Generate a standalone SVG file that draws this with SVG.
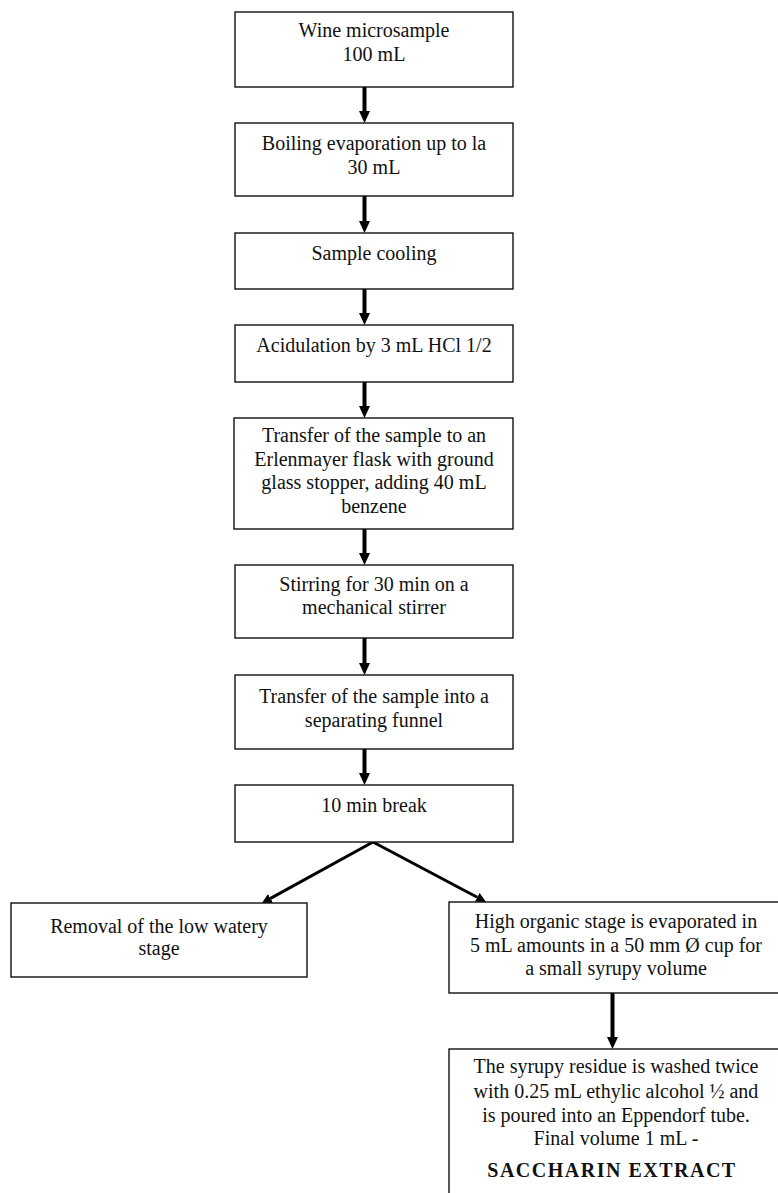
<svg xmlns="http://www.w3.org/2000/svg" width="778" height="1193" viewBox="0 0 778 1193">
<style>
  .box{fill:#fff;stroke:#111;stroke-width:1.4}
  .t{font-family:'Liberation Serif','DejaVu Serif',serif;font-size:20px;fill:#111;text-anchor:middle}
  .b{font-weight:bold}
  .v{stroke:#000;stroke-width:4;fill:none}
  .d{stroke:#000;stroke-width:3;fill:none}
</style>
<defs>
  <marker id="ah" markerUnits="userSpaceOnUse" markerWidth="12" markerHeight="11" refX="0" refY="5.5" orient="auto">
    <path d="M0,0 L12,5.5 L0,11 z" fill="#000"/>
  </marker>
  <marker id="ahd" markerUnits="userSpaceOnUse" markerWidth="10" markerHeight="10" refX="0" refY="5" orient="auto">
    <path d="M0,0 L10,5 L0,10 z" fill="#000"/>
  </marker>
</defs>
<rect width="778" height="1193" fill="#fff"/>
<g id="connectors">
  <line class="v" x1="364.5" y1="87" x2="364.5" y2="111" marker-end="url(#ah)"/>
  <line class="v" x1="364.5" y1="196" x2="364.5" y2="221" marker-end="url(#ah)"/>
  <line class="v" x1="364.5" y1="289" x2="364.5" y2="313" marker-end="url(#ah)"/>
  <line class="v" x1="364.5" y1="382" x2="364.5" y2="406" marker-end="url(#ah)"/>
  <line class="v" x1="364.5" y1="529" x2="364.5" y2="553" marker-end="url(#ah)"/>
  <line class="v" x1="364.5" y1="638" x2="364.5" y2="663" marker-end="url(#ah)"/>
  <line class="v" x1="364.5" y1="749" x2="364.5" y2="773" marker-end="url(#ah)"/>
  <line class="d" x1="373" y1="842" x2="270.5" y2="898.4" marker-end="url(#ahd)"/>
  <line class="d" x1="373" y1="842" x2="477.2" y2="897.3" marker-end="url(#ahd)"/>
  <line class="v" x1="612.5" y1="993" x2="612.5" y2="1037" marker-end="url(#ah)"/>
</g>
<g id="n1">
  <rect class="box" x="235" y="12" width="278" height="75"/>
  <text class="t" x="374" y="37">Wine microsample</text>
  <text class="t" x="374" y="61">100 mL</text>
</g>
<g id="n2">
  <rect class="box" x="235" y="123" width="278" height="73"/>
  <text class="t" x="374" y="150">Boiling evaporation up to la</text>
  <text class="t" x="374" y="174">30 mL</text>
</g>
<g id="n3">
  <rect class="box" x="235" y="233" width="278" height="56"/>
  <text class="t" x="374" y="260">Sample cooling</text>
</g>
<g id="n4">
  <rect class="box" x="235" y="325" width="278" height="57"/>
  <text class="t" x="374" y="352">Acidulation by 3 mL HCl 1/2</text>
</g>
<g id="n5">
  <rect class="box" x="234" y="418" width="279" height="111"/>
  <text class="t" x="374" y="442">Transfer of the sample to an</text>
  <text class="t" x="374" y="465.5">Erlenmayer flask with ground</text>
  <text class="t" x="374" y="489">glass stopper, adding 40 mL</text>
  <text class="t" x="374" y="512.5">benzene</text>
</g>
<g id="n6">
  <rect class="box" x="235" y="565" width="278" height="73"/>
  <text class="t" x="374" y="591">Stirring for 30 min on a</text>
  <text class="t" x="374" y="614">mechanical stirrer</text>
</g>
<g id="n7">
  <rect class="box" x="235" y="675" width="278" height="74"/>
  <text class="t" x="374" y="703">Transfer of the sample into a</text>
  <text class="t" x="374" y="727">separating funnel</text>
</g>
<g id="n8">
  <rect class="box" x="235" y="785" width="278" height="57"/>
  <text class="t" x="374" y="812">10 min break</text>
</g>
<g id="n9">
  <rect class="box" x="11" y="903" width="296" height="74"/>
  <text class="t" x="159" y="933">Removal of the low watery</text>
  <text class="t" x="159" y="955">stage</text>
</g>
<g id="n10">
  <rect class="box" x="449" y="902" width="340" height="91"/>
  <text class="t" x="616" y="928">High organic stage is evaporated in</text>
  <text class="t" x="616" y="952">5 mL amounts in a 50 mm Ø cup for</text>
  <text class="t" x="616" y="975">a small syrupy volume</text>
</g>
<g id="n11">
  <rect class="box" x="449" y="1049" width="340" height="160"/>
  <text class="t" x="616" y="1073">The syrupy residue is washed twice</text>
  <text class="t" x="616" y="1098">with 0.25 mL ethylic alcohol ½ and</text>
  <text class="t" x="616" y="1122">is poured into an Eppendorf tube.</text>
  <text class="t" x="616" y="1145">Final volume 1 mL -</text>
  <text class="t b" x="612" y="1177" style="letter-spacing:1.5px">SACCHARIN EXTRACT</text>
</g>
</svg>
